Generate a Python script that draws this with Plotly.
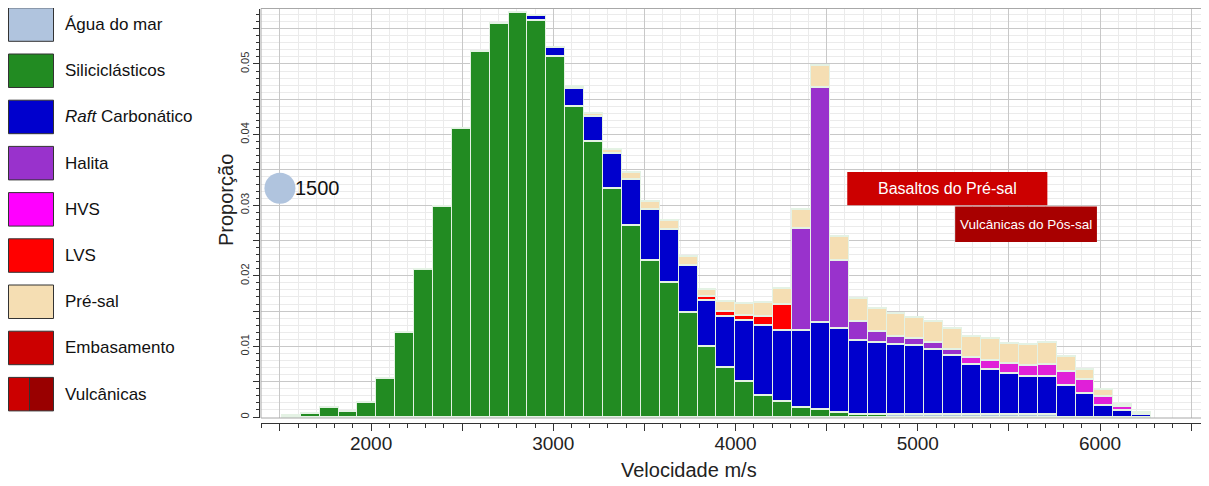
import plotly.graph_objects as go

# ---------------- data ----------------
velocidade = [1562.0, 1665.7, 1769.4, 1873.1, 1976.8, 2080.5, 2184.2, 2287.9, 2391.6, 2495.3,
              2599.0, 2702.7, 2806.4, 2910.1, 3013.8, 3117.5, 3221.2, 3324.9, 3428.6, 3532.3,
              3636.0, 3739.7, 3843.4, 3947.1, 4050.8, 4154.5, 4258.2, 4361.9, 4465.6, 4569.3,
              4673.0, 4776.7, 4880.4, 4984.1, 5087.8, 5191.5, 5295.2, 5398.9, 5502.6, 5606.3,
              5710.0, 5813.7, 5917.4, 6021.1, 6124.8, 6228.5]

agua_do_mar = [0.0002, 0, 0, 0, 0, 0, 0, 0, 0, 0,
               0, 0, 0, 0, 0, 0, 0, 0, 0, 0,
               0, 0, 0, 0, 0, 0, 0, 0, 0, 0,
               0, 0, 0.0003, 0.0003, 0.0003, 0.0003, 0.0003, 0.0003, 0.0003, 0.0003,
               0.0003, 0, 0, 0, 0, 0]

siliciclasticos = [0, 0.0005, 0.0013, 0.0008, 0.0020, 0.0055, 0.0119, 0.0209, 0.0298, 0.0408,
                   0.0517, 0.0558, 0.0573, 0.0562, 0.0510, 0.0440, 0.0390, 0.0323, 0.0271, 0.0221,
                   0.0190, 0.0148, 0.0100, 0.0070, 0.0050, 0.0031, 0.0022, 0.0014, 0.0010, 0.0006,
                   0.0004, 0.0003, 0, 0, 0, 0, 0, 0, 0, 0,
                   0, 0, 0, 0, 0, 0]

raft_carbonatico = [0, 0, 0, 0, 0, 0, 0, 0, 0, 0,
                    0, 0, 0, 0.0006, 0.0014, 0.0025, 0.0035, 0.0050, 0.0066, 0.0073,
                    0.0076, 0.0067, 0.0065, 0.0073, 0.0087, 0.0098, 0.0100, 0.0108, 0.0124, 0.0120,
                    0.0104, 0.0103, 0.0100, 0.0098, 0.0093, 0.0084, 0.0072, 0.0064, 0.0058, 0.0054,
                    0.0055, 0.0044, 0.0033, 0.0017, 0.0009, 0.0003]

lvs = [0] * 22 + [0.0005, 0.0006, 0.0007, 0.0013, 0.0038] + [0] * 19

halita = [0] * 27 + [0.0145, 0.0333, 0.0096, 0.0027, 0.0015, 0.0011, 0.0010, 0.0010, 0.0008] + [0] * 10

hvs = [0] * 36 + [0.0009, 0.0013, 0.0015, 0.0016, 0.0017, 0.0020, 0.0020, 0.0012, 0.0006, 0.0003]

pre_sal = [0, 0, 0, 0, 0, 0, 0, 0, 0, 0,
           0, 0, 0, 0, 0, 0.0003, 0.0005, 0.0006, 0.0009, 0.0011,
           0.0012, 0.0013, 0.0010, 0.0015, 0.0017, 0.0020, 0.0022, 0.0027, 0.0031, 0.0034,
           0.0033, 0.0032, 0.0032, 0.0030, 0.0029, 0.0030, 0.0030, 0.0031, 0.0028, 0.0029,
           0.0030, 0.0021, 0.0014, 0.0010, 0.0003, 0.0001]

x_tickvals = [1500, 2000, 2500, 3000, 3500, 4000, 4500, 5000, 5500, 6000, 6500]
x_ticktext = ["", "2000", "", "3000", "", "4000", "", "5000", "", "6000", ""]
y_tickvals = [0, 0.005, 0.01, 0.015, 0.02, 0.025, 0.03, 0.035, 0.04, 0.045, 0.05, 0.055]
y_ticktext = ["0", "", "0.01", "", "0.02", "", "0.03", "", "0.04", "", "0.05", ""]

agua_ponto_x = [1500]
agua_ponto_y = [0.0324]
agua_ponto_label = "1500"

legend_labels = ["Água do mar", "Siliciclásticos", "<i>Raft</i> Carbonático", "Halita", "HVS",
                 "LVS", "Pré-sal", "Embasamento", "Vulcânicas"]
legend_colors = ["#b0c4de", "#228b22", "#0000cd", "#9932cc", "#ff00ff",
                 "#ff0000", "#f5deb3", "#cc0000", "#cc0000"]

# ---------------- figure ----------------
# The page has an 8px body margin, so the figure is drawn 8px in from the top-left.
OFF = 8
W, H = 1209 - OFF, 486 - OFF
FONT = "Arial, Liberation Sans, sans-serif"


def px(x):
    return (x - OFF) / W


def py(y):
    return 1 - (y - OFF) / H


fig = go.Figure()
series = [
    ("Água do mar", agua_do_mar, "#b0c4de"),
    ("Siliciclásticos", siliciclasticos, "#228b22"),
    ("Raft Carbonático", raft_carbonatico, "#0000cd"),
    ("LVS", lvs, "#ff0000"),
    ("Halita", halita, "#9932cc"),
    ("HVS", hvs, "#e020d8"),
    ("Pré-sal", pre_sal, "#f5deb3"),
]
for name, vals, col in series:
    fig.add_trace(go.Bar(x=velocidade, y=vals, name=name, marker_color=col,
                         marker_line=dict(color="#e4f2e4", width=1.2),
                         showlegend=False, hoverinfo="skip"))

fig.add_trace(go.Scatter(x=agua_ponto_x, y=agua_ponto_y, mode="markers",
                         marker=dict(size=31, color="#b0c4de"), cliponaxis=False,
                         showlegend=False, hoverinfo="skip"))

annotations = [
    dict(x=agua_ponto_x[0], y=agua_ponto_y[0], xref="x", yref="y", text=agua_ponto_label,
         showarrow=False, xanchor="left", yanchor="middle", xshift=13,
         font=dict(size=20, color="#111", family=FONT)),
    dict(x=(4613 + 5711) / 2, y=(0.0300 + 0.0347) / 2, xref="x", yref="y",
         text="Basaltos do Pré-sal", showarrow=False, xanchor="center", yanchor="middle",
         font=dict(size=16, color="white", family=FONT)),
    dict(x=(5205 + 5983) / 2, y=(0.0248 + 0.0298) / 2, xref="x", yref="y",
         text="Vulcânicas do Pós-sal", showarrow=False, xanchor="center", yanchor="middle",
         font=dict(size=13.5, color="white", family=FONT)),
    dict(x=px(689), y=py(470), xref="paper", yref="paper", text="Velocidade m/s",
         showarrow=False, xanchor="center", yanchor="middle",
         font=dict(size=20, color="#222", family=FONT)),
    dict(x=px(226), y=py(200), xref="paper", yref="paper", text="Proporção", textangle=-90,
         showarrow=False, xanchor="center", yanchor="middle",
         font=dict(size=20, color="#222", family=FONT)),
]

shapes = [
    dict(type="rect", xref="x", yref="y", x0=4613, x1=5711, y0=0.0300, y1=0.0347,
         fillcolor="#cc0000", line=dict(width=0), layer="above"),
    dict(type="rect", xref="x", yref="y", x0=5205, x1=5983, y0=0.0248, y1=0.0298,
         fillcolor="#a80000", line=dict(width=0), layer="above"),
    dict(type="rect", xref="paper", yref="paper", x0=px(261), x1=px(1207), y0=py(418), y1=py(8.5),
         line=dict(color="#a8a8a8", width=1), fillcolor="rgba(0,0,0,0)", layer="above"),
]

# custom legend
for i, (lab, col) in enumerate(zip(legend_labels, legend_colors)):
    top = 7.8 + 46.2 * i
    bot = top + 33.5
    if lab == "Vulcânicas":
        shapes.append(dict(type="rect", xref="paper", yref="paper", x0=px(8.5), x1=px(29.5),
                           y0=py(bot), y1=py(top), fillcolor="#cc0000", line=dict(width=0)))
        shapes.append(dict(type="rect", xref="paper", yref="paper", x0=px(29.5), x1=px(53.5),
                           y0=py(bot), y1=py(top), fillcolor="#990000", line=dict(width=0)))
        shapes.append(dict(type="line", xref="paper", yref="paper", x0=px(29.5), x1=px(29.5),
                           y0=py(bot), y1=py(top), line=dict(color="#333", width=1)))
        shapes.append(dict(type="rect", xref="paper", yref="paper", x0=px(8.5), x1=px(53.5),
                           y0=py(bot), y1=py(top), fillcolor="rgba(0,0,0,0)",
                           line=dict(color="#333", width=1)))
    else:
        shapes.append(dict(type="rect", xref="paper", yref="paper", x0=px(8.5), x1=px(53.5),
                           y0=py(bot), y1=py(top), fillcolor=col,
                           line=dict(color="#333", width=1)))
    annotations.append(dict(x=px(62.5), y=py((top + bot) / 2), xref="paper", yref="paper",
                            text=lab, showarrow=False, xanchor="left", yanchor="middle",
                            font=dict(size=17, color="#111", family=FONT)))

fig.update_layout(
    width=W, height=H, margin=dict(l=0, r=0, t=0, b=0),
    template="none", paper_bgcolor="white", plot_bgcolor="white",
    barmode="stack", bargap=0, showlegend=False,
    font=dict(family=FONT, color="#222"),
    shapes=shapes, annotations=annotations,
    xaxis=dict(domain=[px(261), px(1207)], range=[1396, 6587], anchor="free",
               position=py(423), automargin=False,
               showline=True, linecolor="#333", linewidth=1,
               ticks="outside", ticklen=7, tickcolor="#333", tickwidth=1,
               tickvals=x_tickvals, ticktext=x_ticktext, ticklabelstandoff=-4,
               tickfont=dict(size=19, color="#222", family=FONT),
               showgrid=True, gridcolor="#c8c8c8", gridwidth=1, zeroline=False,
               minor=dict(dtick=100, tick0=1500, ticks="outside", ticklen=4, tickcolor="#333",
                          showgrid=True, gridcolor="#ebebeb", gridwidth=1)),
    yaxis=dict(domain=[py(418), py(8.5)], range=[-0.000142, 0.05786], anchor="free",
               position=px(259), automargin=False,
               showline=True, linecolor="#333", linewidth=1,
               ticks="outside", ticklen=6, tickcolor="#333", tickwidth=1,
               tickvals=y_tickvals, ticktext=y_ticktext, tickangle=-90,
               tickfont=dict(size=11, color="#333", family=FONT),
               showgrid=True, gridcolor="#c8c8c8", gridwidth=1, zeroline=False,
               minor=dict(dtick=0.001, tick0=0, ticks="outside", ticklen=3, tickcolor="#333",
                          showgrid=True, gridcolor="#ebebeb", gridwidth=1)),
)

fig.write_html("out.html")
